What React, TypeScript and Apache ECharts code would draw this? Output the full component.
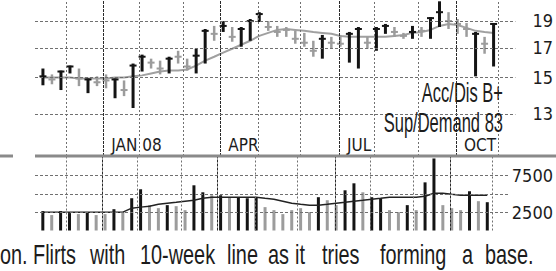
import { useEffect, useRef } from 'react';
import * as echarts from 'echarts';

// Weekly price bars (index 0 = first week shown)
const weekHigh = [15.59,15.22,15.46,15.78,15.59,14.97,15.10,15.22,14.97,14.85, 15.91,16.50,16.23,16.10,16.36,16.76,16.23,16.90,18.32,18.55, 18.92,18.47,18.47,19.08,19.62,18.92,18.55,18.47,18.18,18.03, 17.46,17.88,17.74,17.88,18.10,18.47,17.74,18.47,18.70,18.47, 18.03,18.55,18.47,19.23,20.51,19.62,19.08,18.77,18.10,17.74, 18.77];
const weekLow = [14.56,14.62,14.28,15.28,14.51,14.10,14.51,14.38,13.81,13.93, 13.27,15.40,15.59,15.22,15.28,15.91,15.46,15.28,15.91,17.46, 18.10,17.39,17.04,17.46,18.85,18.18,17.74,17.74,17.25,17.04, 16.36,16.23,16.90,17.04,15.97,15.59,16.90,16.76,17.96,17.74, 17.60,17.60,17.74,17.60,18.47,18.32,17.96,17.74,15.10,16.56, 15.72];
const weekClose = [15.10,14.91,15.40,15.72,14.97,14.91,14.74,14.85,14.91,14.28, 15.78,16.36,15.97,15.59,16.23,16.36,15.72,16.43,18.18,17.96, 18.55,17.74,18.32,18.92,19.47,18.47,18.10,18.25,17.60,17.32, 16.76,17.60,17.32,17.25,17.96,18.32,17.32,18.32,18.55,18.10, 17.81,18.10,18.18,19.15,19.62,18.92,18.70,18.32,17.96,17.25, 18.70];
const darkBar = [1,0,1,1,0,1,0,0,1,0, 1,1,0,0,1,0,0,1,1,0, 1,0,1,1,1,0,0,0,0,0, 0,1,0,0,1,1,0,1,1,0, 0,1,0,1,1,0,0,0,1,0, 1];
const ma10Week = [15.03,15.03,15.03,15.03,14.97,14.97,14.97,14.97,15.03,15.03, 15.10,15.16,15.28,15.40,15.46,15.46,15.53,15.78,16.10,16.36, 16.63,16.90,17.18,17.46,17.81,18.03,18.25,18.32,18.25,18.18, 18.10,18.03,17.96,17.81,17.74,17.74,17.74,17.74,17.74,17.81, 17.88,18.03,18.10,18.25,18.55,18.70,18.62,18.40,18.18,18.10, 18.03];
const weekVolume = [2640,2100,2640,2370,2230,2500,2100,2230,2900,2500, 4390,5610,3450,3040,3450,3310,2770,6150,5200,4800, 4800,4530,4530,4390,4530,3180,2770,2230,2770,3040, 2500,4530,4120,3450,5470,6420,5200,4530,4390,2770, 2500,3450,2770,6550,9800,3450,3040,2770,5340,3990, 3850];
const volumeAvg = [2500,2500,2500,2500,2500,2500,2500,2500,2500,2500, 3040,3180,3310,3580,3720,3850,3990,4120,4390,4530, 4530,4530,4530,4530,4530,4390,4260,3990,3720,3580, 3450,3450,3580,3720,3850,3990,4120,4260,4390,4530, 4530,4530,4530,4660,5070,5070,4930,4800,4800,4800, 4800];

// Axis marks
const monthLines = [2.64, 10.66, 15.60, 23.85, 28.57, 36.81, 41.65, 50.55];
const quarterLines = [6.70, 19.67, 32.86, 45.82];
const quarterLabels = ['JAN 08', 'APR', 'JUL', 'OCT'];
const priceTicks = [13, 15, 17, 19];
const volumeLines = [2500, 5000, 7500];
const volumeLabels = [2500, 7500];

const captionWords = ['on.', 'Flirts', 'with', '10-week', 'line', 'as', 'it', 'tries', 'forming', 'a', 'base.'];
const captionX = [0, 33, 90, 140, 227, 268, 295, 322, 380, 462, 485];

const X_MIN = -0.88;
const X_MAX = 52.42;
const Y_MIN = Math.log(10.91);
const Y_MAX = Math.log(20.62);
const AXIS_FONT = "'DejaVu Sans Condensed', 'DejaVu Sans', sans-serif";
const GFONT = "'Liberation Sans', Arial, sans-serif";
const TEXT = '#1c1c1c';
const GRID_LIGHT = '#707070';
const GRID_DARK = '#2a2a2a';

export default function App() {
  const ref = useRef<HTMLDivElement>(null);
  useEffect(() => {
    document.body.style.margin = '0';
    const chart = echarts.init(ref.current!, undefined, { renderer: 'svg' });
    const idx = weekHigh.map((_, i) => i);
    const ln = (v: number) => Math.log(v);
    const xBase = (grid: number) => ({
      type: 'value', gridIndex: grid, position: 'bottom', min: X_MIN, max: X_MAX,
      axisLine: { show: false }, axisTick: { show: false }, axisLabel: { show: false },
      splitLine: { show: false },
    });
    const qAxisPrice: any = xBase(0);
    qAxisPrice.axisLabel = {
      show: true, customValues: quarterLines, inside: true, margin: 3,
      align: 'left', padding: [0, 0, 0, 8],
      fontFamily: AXIS_FONT, fontStyle: 'condensed', fontSize: 17, color: TEXT,
      formatter: (v: number) => {
        let best = 0;
        quarterLines.forEach((q, k) => { if (Math.abs(q - v) < Math.abs(quarterLines[best] - v)) best = k; });
        return quarterLabels[best];
      },
    };
    const ruleSeries = (xi: number, yi: number, items: any[], color: string, dash: number[]) => ({
      type: 'line', xAxisIndex: xi, yAxisIndex: yi, data: [], z: 1, silent: true,
      markLine: {
        silent: true, symbol: ['none', 'none'], animation: false, label: { show: false },
        lineStyle: { color, type: dash, width: 1 },
        data: items,
      },
    });
    const vMonths = monthLines.map(v => ({ xAxis: v }));
    const vQuarters = quarterLines.map(v => ({ xAxis: v }));
    chart.setOption({
      animation: false,
      backgroundColor: '#ffffff',
      grid: [
        { left: 35, width: 485, top: 0, height: 156 },
        { left: 35, width: 485, top: 157, height: 73.5 },
      ],
      xAxis: [qAxisPrice, xBase(1)],
      yAxis: [
        {
          type: 'value', gridIndex: 0, position: 'right', min: Y_MIN, max: Y_MAX,
          axisLine: { show: false }, axisTick: { show: false }, splitLine: { show: false },
          axisLabel: {
            customValues: priceTicks.map(ln), margin: 17, fontFamily: AXIS_FONT, fontStyle: 'condensed', fontSize: 18, color: TEXT,
            formatter: (v: number) => String(Math.round(Math.exp(v))),
          },
        },
        {
          type: 'value', gridIndex: 1, position: 'right', min: 0, max: 10000,
          axisLine: { show: false }, axisTick: { show: false }, splitLine: { show: false },
          axisLabel: {
            customValues: volumeLabels, margin: 3, fontFamily: AXIS_FONT, fontStyle: 'condensed', fontSize: 18, color: TEXT,
            formatter: (v: number) => String(v),
          },
        },
      ],
      series: [
        ruleSeries(0, 0, vMonths, GRID_LIGHT, [2, 2]),
        ruleSeries(0, 0, vQuarters, GRID_DARK, [3, 1]),
        ruleSeries(0, 0, priceTicks.map(v => ({ yAxis: ln(v) })), GRID_LIGHT, [3, 2]),
        ruleSeries(1, 1, vMonths, GRID_LIGHT, [2, 2]),
        ruleSeries(1, 1, vQuarters, GRID_DARK, [3, 1]),
        ruleSeries(1, 1, volumeLines.map(v => ({ yAxis: v })), GRID_LIGHT, [3, 2]),
        {
          type: 'line', xAxisIndex: 0, yAxisIndex: 0,
          data: idx.map(i => [i, ln(ma10Week[i])]),
          symbol: 'none', lineStyle: { color: '#a0a0a0', width: 2 }, z: 2,
        },
        {
          type: 'custom', xAxisIndex: 0, yAxisIndex: 0,
          data: idx.map(i => [i, ln(weekHigh[i]), ln(weekLow[i]), ln(weekClose[i]), darkBar[i]]),
          encode: { x: 0, y: [1, 2, 3] },
          z: 3,
          renderItem: (_p: any, api: any) => {
            const x = api.value(0);
            const h = api.coord([x, api.value(1)]);
            const l = api.coord([x, api.value(2)]);
            const c = api.coord([x, api.value(3)]);
            const dark = api.value(4) === 1;
            const color = dark ? '#141414' : '#9c9c9c';
            return {
              type: 'group',
              children: [
                { type: 'line', shape: { x1: h[0], y1: h[1], x2: l[0], y2: l[1] }, style: { stroke: color, lineWidth: dark ? 3 : 2.5 } },
                { type: 'line', shape: { x1: c[0] - 3.5, y1: c[1], x2: c[0] + 3.5, y2: c[1] }, style: { stroke: color, lineWidth: 2 } },
              ],
            };
          },
        },
        {
          type: 'bar', xAxisIndex: 1, yAxisIndex: 1, barWidth: 3,
          data: idx.map(i => ({ value: [i, weekVolume[i]], itemStyle: { color: darkBar[i] ? '#141414' : '#9c9c9c' } })),
          z: 2,
        },
        {
          type: 'line', xAxisIndex: 1, yAxisIndex: 1,
          data: idx.map(i => [i, volumeAvg[i]]),
          symbol: 'none', lineStyle: { color: '#222', width: 1.5 }, z: 3,
        },
      ],
      graphic: [
        { type: 'line', shape: { x1: 0, y1: 156, x2: 13, y2: 156 }, style: { stroke: '#8a8a8a', lineWidth: 3 }, z: 10 },
        { type: 'line', shape: { x1: 35, y1: 156, x2: 556, y2: 156 }, style: { stroke: '#8a8a8a', lineWidth: 3 }, z: 10 },
        { type: 'text', x: 503, y: 92, scaleX: 0.59, z: 10,
          style: { text: 'Acc/Dis B+', fontFamily: GFONT, fontSize: 28, fill: TEXT, align: 'right', verticalAlign: 'middle' } },
        { type: 'text', x: 503, y: 122, scaleX: 0.59, z: 10,
          style: { text: 'Sup/Demand 83', fontFamily: GFONT, fontSize: 28, fill: TEXT, align: 'right', verticalAlign: 'middle' } },
        ...captionWords.map((w, k) => ({
          type: 'text', x: captionX[k], y: 254, scaleX: 0.71, z: 10,
          style: { text: w, fontFamily: GFONT, fontSize: 28, fill: TEXT, align: 'left', verticalAlign: 'middle' },
        })),
      ],
    });
    return () => chart.dispose();
  }, []);
  return <div ref={ref} style={{ position: 'fixed', left: 0, top: 0, width: 556, height: 271 }} />;
}
